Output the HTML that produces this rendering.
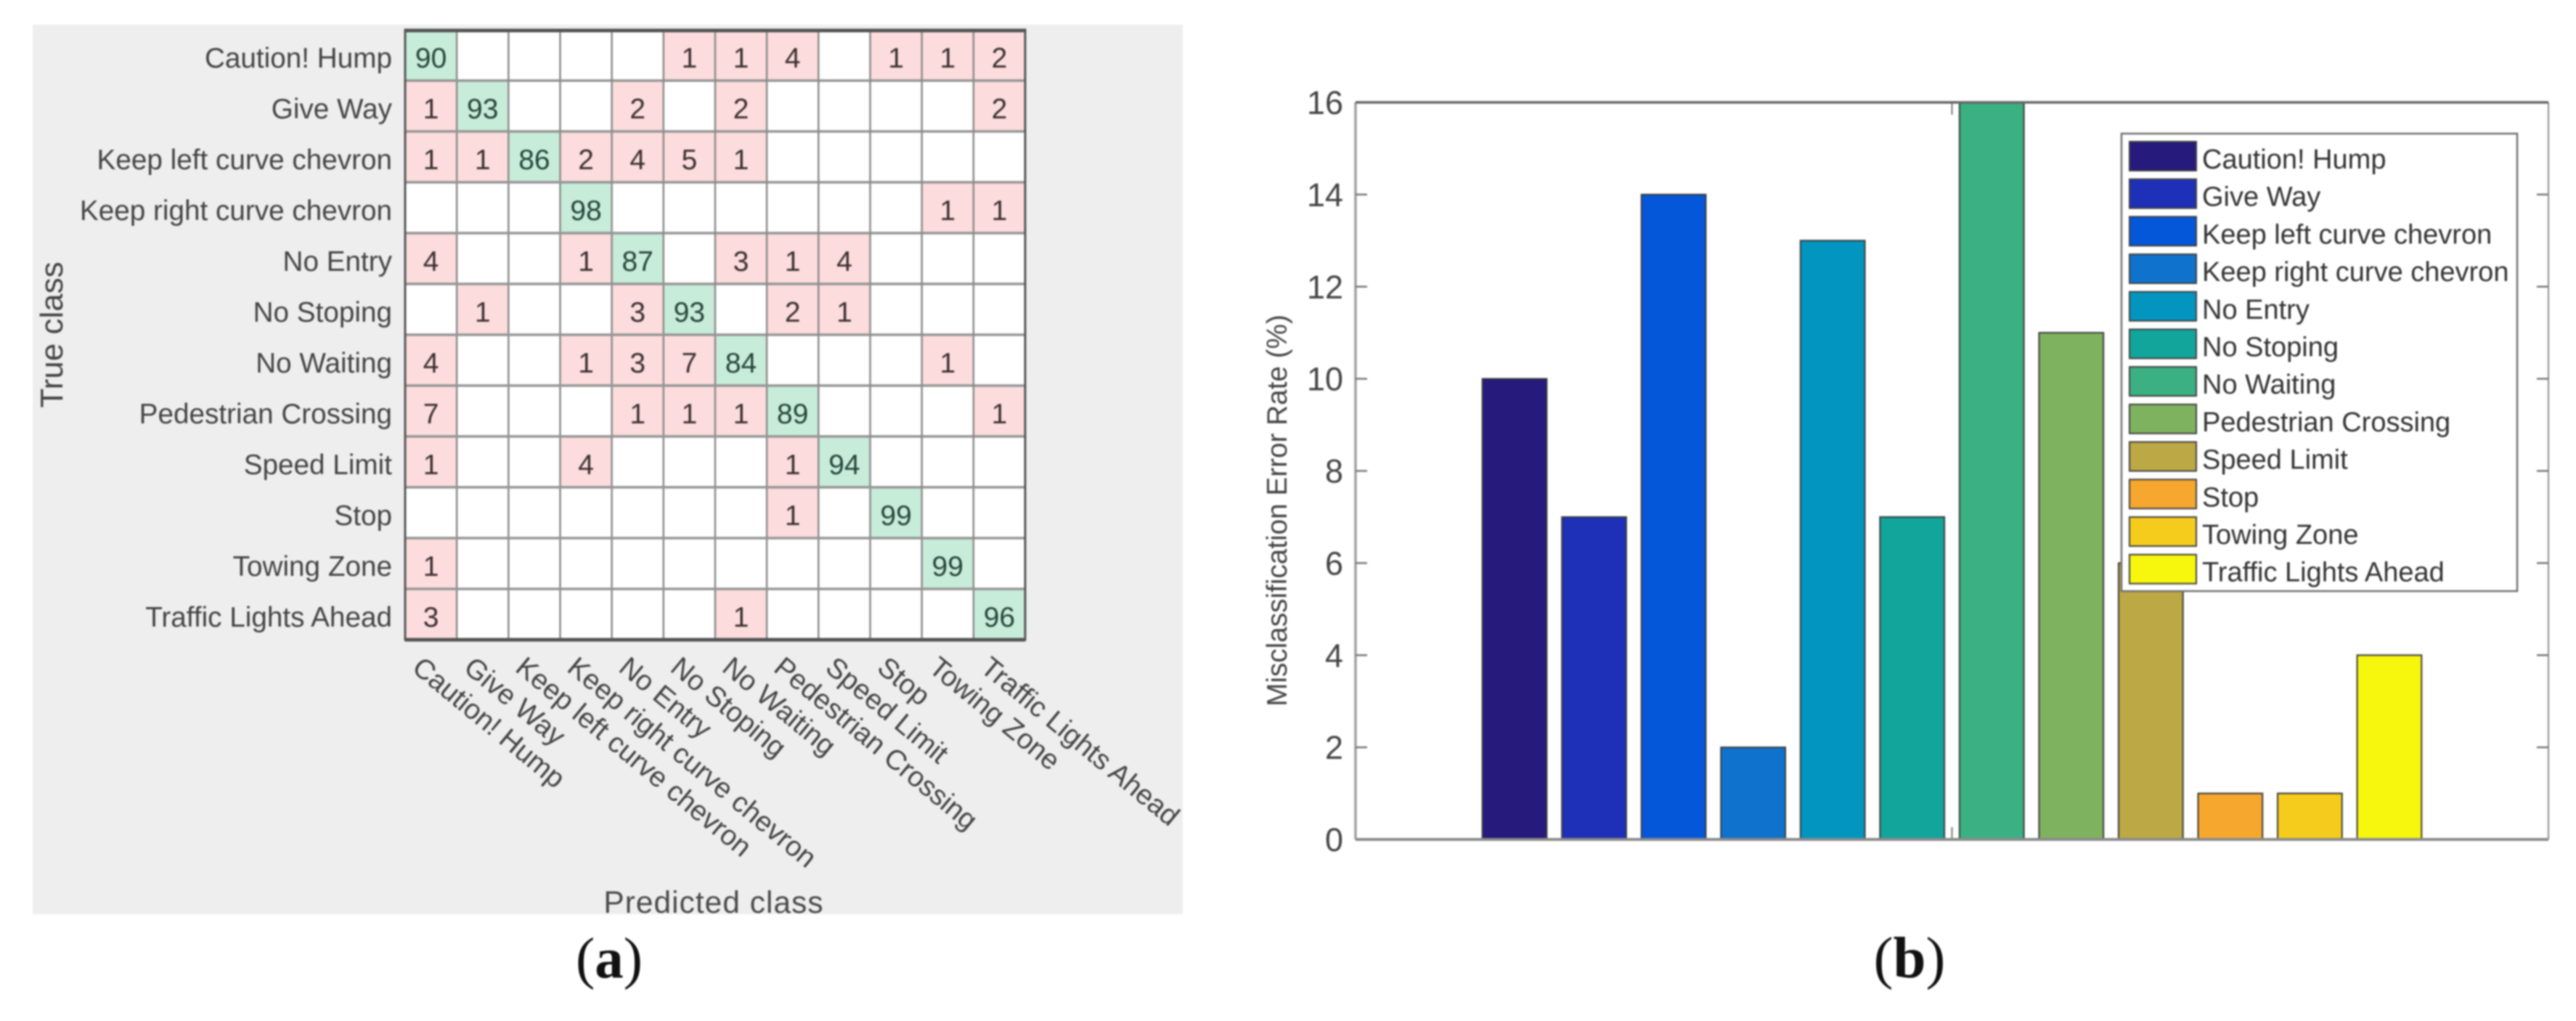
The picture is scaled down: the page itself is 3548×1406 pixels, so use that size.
<!DOCTYPE html>
<html lang="en">
<head>
<meta charset="utf-8">
<title>Confusion matrix and misclassification error rate</title>
<style>
html,body{margin:0;padding:0;background:#fff;width:3548px;height:1406px;overflow:hidden}
svg{display:block;filter:blur(1.1px)}
text{font-family:"Liberation Sans",sans-serif}
</style>
</head>
<body>
<svg id="fig" xmlns="http://www.w3.org/2000/svg" width="3548" height="1406" viewBox="0 0 3548 1406">
  <rect x="45" y="34" width="1584" height="1225" fill="#eeeeee"/>
  <g id="matrix"></g>
  <g id="bars"></g>
  <text x="839" y="1346" text-anchor="middle" style="font-family:'Liberation Serif',serif;font-size:79px" fill="#111">(<tspan font-weight="bold">a</tspan>)</text>
  <text x="2630" y="1346" text-anchor="middle" style="font-family:'Liberation Serif',serif;font-size:81px" fill="#111">(<tspan font-weight="bold">b</tspan>)</text>
</svg>
<script>
const classes = ["Caution! Hump","Give Way","Keep left curve chevron","Keep right curve chevron","No Entry","No Stoping","No Waiting","Pedestrian Crossing","Speed Limit","Stop","Towing Zone","Traffic Lights Ahead"];
const confusion = [
  [90,0,0,0,0,1,1,4,0,1,1,2],
  [1,93,0,0,2,0,2,0,0,0,0,2],
  [1,1,86,2,4,5,1,0,0,0,0,0],
  [0,0,0,98,0,0,0,0,0,0,1,1],
  [4,0,0,1,87,0,3,1,4,0,0,0],
  [0,1,0,0,3,93,0,2,1,0,0,0],
  [4,0,0,1,3,7,84,0,0,0,1,0],
  [7,0,0,0,1,1,1,89,0,0,0,1],
  [1,0,0,4,0,0,0,1,94,0,0,0],
  [0,0,0,0,0,0,0,1,0,99,0,0],
  [1,0,0,0,0,0,0,0,0,0,99,0],
  [3,0,0,0,0,0,1,0,0,0,0,96]
];
const errorRates = [10,7,14,2,13,7,16,11,6,1,1,4];
const barColors = ["#261a7c","#1f30b8","#0457d9","#0f72cc","#0295c0","#12a59c","#3bb082","#7fb25f","#bca844","#f6a72d","#f6cc1c","#f7f70d"];
const yTicks = [0,2,4,6,8,10,12,14,16];

const NS = "http://www.w3.org/2000/svg";
function make(parent, tag, props) {
  const el = document.createElementNS(NS, tag);
  for (const k in props) el.setAttribute(k, props[k]);
  parent.appendChild(el);
  return el;
}

/* ---------- confusion matrix ---------- */
const mg = document.getElementById("matrix");
const mLeft = 558, mRight = 1412, mTop = 41, mBottom = 881;
const colX = i => mLeft + (mRight - mLeft) * i / classes.length;
const rowY = i => mTop + (mBottom - mTop) * i / classes.length;
const mBg = make(mg, "rect", {x: mLeft, y: mTop, width: mRight - mLeft, height: mBottom - mTop, fill: "#ffffff"});



confusion.forEach((row, r) => {
  row.forEach((v, c) => {
    if (!v) return;
    const cell = make(mg, "rect", {x: colX(c), y: rowY(r), width: colX(c + 1) - colX(c), height: rowY(r + 1) - rowY(r), fill: r === c ? "#c8ecda" : "#fcdcdc"});
    
    
    const t = make(mg, "text", {x: (colX(c) + colX(c + 1)) / 2, y: (rowY(r) + rowY(r + 1)) / 2 + 17, "text-anchor": "middle", "font-size": 39, fill: r === c ? "#27443a" : "#3a3030"});
    t.textContent = v;
    
    
  });
});

for (let i = 1; i < classes.length; i++) {
  const vl = make(mg, "line", {x1: colX(i), x2: colX(i), y1: mTop, y2: mBottom, stroke: "#8a8a8a", "stroke-width": 2.5});
  
  
  const hl = make(mg, "line", {x1: mLeft, x2: mRight, y1: rowY(i), y2: rowY(i), stroke: "#959595", "stroke-width": 3.5});
  
  
}
const mBorder = make(mg, "path", {d: `M${mLeft} ${mBottom}V${mTop}H${mRight}V${mBottom}Z`, fill: "none", stroke: "#555", "stroke-width": 3});


const mTopLine = make(mg, "line", {x1: mLeft, x2: mRight, y1: mTop + 1, y2: mTop + 1, stroke: "#555", "stroke-width": 5});


const mBottomLine = make(mg, "line", {x1: mLeft, x2: mRight, y1: mBottom, y2: mBottom, stroke: "#555", "stroke-width": 5});



classes.forEach((name, i) => {
  const yl = make(mg, "text", {x: 540, y: (rowY(i) + rowY(i + 1)) / 2 + 17, "text-anchor": "end", "font-size": 38.7, fill: "#444"});
  yl.textContent = name;
  
  
  const px = (colX(i) + colX(i + 1)) / 2 - 28, py = 923;
  const xl = make(mg, "text", {x: px, y: py, "text-anchor": "start", "font-size": 38.7, fill: "#444", transform: `rotate(39.5 ${px} ${py})`});
  xl.textContent = name;
  
  
});

const yTitle = make(mg, "text", {x: 86, y: 461, "text-anchor": "middle", "font-size": 44, fill: "#444", transform: "rotate(-90 86 461)"});
yTitle.textContent = "True class";


const xTitle = make(mg, "text", {x: 983, y: 1257, "text-anchor": "middle", "font-size": 42.5, "letter-spacing": 1, fill: "#4a4a4a"});
xTitle.textContent = "Predicted class";



/* ---------- bar chart ---------- */
const bg = document.getElementById("bars");
const aLeft = 1867, aRight = 3510, aTop = 141, aBottom = 1156;
const xMin = -1, xMax = 14, yMin = 0, yMax = 16;
const sx = v => aLeft + (v - xMin) / (xMax - xMin) * (aRight - aLeft);
const sy = v => aBottom - (v - yMin) / (yMax - yMin) * (aBottom - aTop);

const lAxis = make(bg, "line", {x1: aLeft, x2: aLeft, y1: aTop, y2: aBottom, stroke: "#a0a0a0", "stroke-width": 3.5});


const rAxis = make(bg, "line", {x1: aRight, x2: aRight, y1: aTop, y2: aBottom, stroke: "#8c8c8c", "stroke-width": 2});



yTicks.forEach(v => {
  const y = sy(v);
  const t1 = make(bg, "line", {x1: aLeft, x2: aLeft + 16, y1: y, y2: y, stroke: "#777", "stroke-width": 2.5});
  
  
  const t2 = make(bg, "line", {x1: aRight - 16, x2: aRight, y1: y, y2: y, stroke: "#777", "stroke-width": 2.5});
  
  
  const lab = make(bg, "text", {x: 1850, y: y + 16, "text-anchor": "end", "font-size": 45, fill: "#444"});
  lab.textContent = v;
  
  
});

const midTickTop = make(bg, "line", {x1: sx(6.5), x2: sx(6.5), y1: aTop, y2: aTop + 17, stroke: "#777", "stroke-width": 2});


const midTickBottom = make(bg, "line", {x1: sx(6.5), x2: sx(6.5), y1: aBottom - 17, y2: aBottom, stroke: "#777", "stroke-width": 2});



errorRates.forEach((v, i) => {
  const half = 0.405;
  const b = make(bg, "rect", {x: sx(i + 1 - half), y: sy(v), width: sx(i + 1 + half) - sx(i + 1 - half), height: sy(0) - sy(v), fill: barColors[i], stroke: "#3a3a3a", "stroke-width": 2});
  
  
});

const tAxis = make(bg, "line", {x1: aLeft, x2: aRight, y1: aTop, y2: aTop, stroke: "#666", "stroke-width": 3.5});


const bAxis = make(bg, "line", {x1: aLeft, x2: aRight, y1: aBottom, y2: aBottom, stroke: "#8c8c8c", "stroke-width": 4});



const yTitleB = make(bg, "text", {x: 1772, y: 703, "text-anchor": "middle", "font-size": 38.7, fill: "#444", transform: "rotate(-90 1772 703)"});
yTitleB.textContent = "Misclassification Error Rate (%)";



const legend = make(bg, "g", {});


const legendBox = make(legend, "rect", {x: 2922, y: 184, width: 545, height: 630, fill: "#fff", stroke: "#707070", "stroke-width": 2.5});


classes.forEach((name, i) => {
  const y0 = 195 + i * 51.7;
  const sw = make(legend, "rect", {x: 2933, y: y0, width: 92, height: 40, fill: barColors[i], stroke: "#3f3f3f", "stroke-width": 2});
  
  
  const lt = make(legend, "text", {x: 3033, y: y0 + 37, "font-size": 38, fill: "#333"});
  lt.textContent = name;
  
  
});
</script>
</body>
</html>
